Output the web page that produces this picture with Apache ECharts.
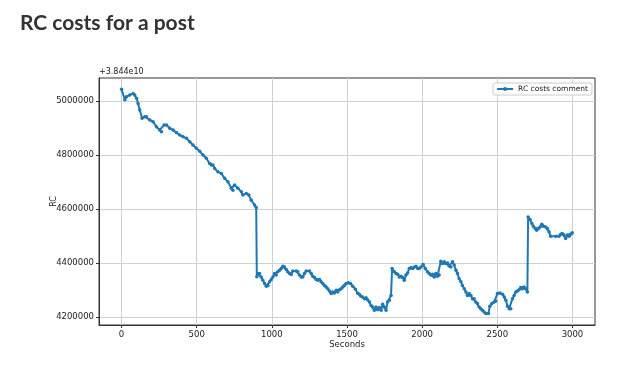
<!DOCTYPE html>
<html>
<head>
<meta charset="utf-8">
<script src="https://cdn.jsdelivr.net/npm/echarts@6/dist/echarts.min.js"></script>
<style>html,body{margin:0;padding:0;background:#fff;}#chart{width:635px;height:365px;}</style>
</head>
<body>
<div id="chart"></div>
<script>
const chartTitle = "RC costs for a post";
const seriesName = "RC costs comment";
const offsetLabel = "+3.844e10";
const xTicks = [0, 500, 1000, 1500, 2000, 2500, 3000];
const yTicks = [4200000, 4400000, 4600000, 4800000, 5000000];
const seconds = [0,22,33,55,77,88,100,110,121,137,155,166,188,210,232,254,266,283,299,321,343,365,387,409,432,454,475,498,520,542,564,586,598,608,620,641,664,686,708,730,741,752,774,797,807,830,847,863,885,896,900,907,918,929,940,952,963,974,985,996,1007,1018,1029,1040,1051,1062,1073,1084,1096,1106,1118,1129,1139,1162,1173,1184,1195,1206,1217,1228,1250,1262,1272,1284,1295,1306,1317,1328,1339,1350,1361,1372,1383,1394,1405,1416,1428,1438,1450,1461,1472,1483,1494,1509,1523,1538,1556,1571,1582,1593,1604,1616,1627,1637,1649,1660,1671,1682,1693,1704,1715,1727,1737,1748,1760,1770,1782,1793,1800,1815,1826,1837,1848,1859,1870,1881,1892,1903,1914,1926,1937,1948,1959,1970,1981,1992,2007,2021,2036,2047,2058,2069,2080,2091,2102,2113,2124,2135,2147,2158,2169,2180,2191,2202,2213,2225,2235,2246,2258,2268,2280,2291,2301,2313,2324,2335,2346,2357,2368,2379,2390,2401,2412,2424,2441,2450,2464,2479,2490,2501,2517,2535,2546,2557,2568,2579,2590,2601,2612,2623,2634,2645,2656,2667,2678,2689,2700,2705,2717,2730,2740,2752,2762,2773,2785,2796,2806,2822,2833,2844,2855,2889,2910,2922,2932,2944,2955,2966,2977,2988,2999];
const rcValues = [5043000,5005000,5016000,5022000,5028000,5022000,5010000,4991000,4967000,4936000,4942000,4942000,4930000,4923000,4905000,4893000,4886000,4911000,4911000,4899000,4893000,4883000,4874000,4868000,4862000,4849000,4837000,4825000,4814000,4800000,4788000,4769000,4763000,4763000,4750000,4738000,4732000,4714000,4701000,4677000,4670000,4689000,4677000,4664000,4652000,4658000,4652000,4633000,4615000,4606000,4350000,4362000,4362000,4349000,4337000,4325000,4315000,4318000,4331000,4340000,4349000,4362000,4356000,4368000,4374000,4380000,4389000,4386000,4377000,4368000,4362000,4358000,4371000,4371000,4368000,4356000,4349000,4349000,4362000,4371000,4371000,4362000,4352000,4347000,4340000,4337000,4340000,4331000,4325000,4318000,4312000,4306000,4297000,4288000,4294000,4290000,4300000,4294000,4302000,4306000,4312000,4318000,4325000,4328000,4325000,4315000,4304000,4289000,4285000,4278000,4275000,4269000,4272000,4265000,4257000,4244000,4238000,4226000,4238000,4228000,4236000,4226000,4248000,4238000,4226000,4257000,4263000,4281000,4380000,4368000,4362000,4359000,4349000,4352000,4347000,4337000,4356000,4364000,4380000,4384000,4380000,4386000,4389000,4380000,4380000,4386000,4395000,4380000,4368000,4362000,4356000,4359000,4349000,4362000,4352000,4356000,4407000,4399000,4405000,4399000,4401000,4390000,4386000,4405000,4393000,4374000,4362000,4343000,4331000,4318000,4306000,4294000,4281000,4288000,4281000,4269000,4269000,4257000,4251000,4238000,4232000,4226000,4220000,4214000,4214000,4241000,4251000,4257000,4260000,4288000,4290000,4285000,4275000,4263000,4241000,4232000,4232000,4269000,4281000,4294000,4297000,4302000,4310000,4306000,4312000,4306000,4294000,4571000,4562000,4547000,4537000,4528000,4522000,4528000,4534000,4544000,4537000,4534000,4528000,4516000,4500000,4500000,4500000,4507000,4510000,4504000,4491000,4504000,4500000,4507000,4513000];

const points = seconds.map((s, i) => [s, rcValues[i]]);
const tickFont = { fontFamily: 'DejaVu Sans', fontSize: 8.5, color: '#222' };

const chart = echarts.init(document.getElementById('chart'), null, { renderer: 'canvas' });
chart.setOption({
  animation: false,
  backgroundColor: '#fff',
  title: [
    { text: chartTitle, left: 20, top: 13, padding: 0, textStyle: { fontFamily: 'Lato', fontWeight: 'bold', fontSize: 21, color: '#333' } },
    { text: offsetLabel, left: 99, top: 68, padding: 0, textStyle: { fontFamily: 'DejaVu Sans', fontWeight: 'normal', fontSize: 8, color: '#222' } }
  ],
  legend: {
    data: [seriesName], right: 43, top: 83,
    backgroundColor: '#fff', borderColor: '#ccc', borderWidth: 1, borderRadius: 2,
    padding: [2, 4, 2, 3], itemWidth: 16, itemHeight: 5, itemGap: 6,
    textStyle: { fontFamily: 'DejaVu Sans', fontSize: 7.5, color: '#222' }
  },
  grid: { left: 99, right: 40, top: 78, bottom: 40, show: true, borderColor: '#333', borderWidth: 1, backgroundColor: 'transparent' },
  xAxis: {
    type: 'value', min: -150, max: 3150,
    name: 'Seconds', nameLocation: 'middle', nameGap: 15, nameMoveOverlap: false,
    nameTextStyle: { fontFamily: 'DejaVu Sans', fontSize: 8.5, color: '#222' },
    axisLine: { show: true, onZero: false, lineStyle: { color: '#333', width: 1 } },
    axisTick: { show: true, inside: false, length: 3, customValues: xTicks, lineStyle: { color: '#333' } },
    axisLabel: { customValues: xTicks, margin: 5, formatter: v => String(v), ...tickFont },
    splitLine: { show: true, lineStyle: { color: '#d0d0d0', width: 1 } }
  },
  yAxis: {
    type: 'value', min: 4171500, max: 5085000,
    name: 'RC', nameLocation: 'middle', nameGap: 41, nameMoveOverlap: false,
    nameTextStyle: { fontFamily: 'DejaVu Sans', fontSize: 8, color: '#222' },
    axisLine: { show: true, onZero: false, lineStyle: { color: '#333', width: 1 } },
    axisTick: { show: true, inside: false, length: 3, customValues: yTicks, lineStyle: { color: '#333' } },
    axisLabel: { customValues: yTicks, margin: 5, formatter: v => String(v), ...tickFont },
    splitLine: { show: true, lineStyle: { color: '#d0d0d0', width: 1 } }
  },
  series: [{
    name: seriesName, type: 'line', data: points,
    showSymbol: true, symbol: 'circle', symbolSize: 3.5,
    lineStyle: { color: '#1f77b4', width: 2 },
    itemStyle: { color: '#1f77b4' }
  }]
});
</script>
</body>
</html>
